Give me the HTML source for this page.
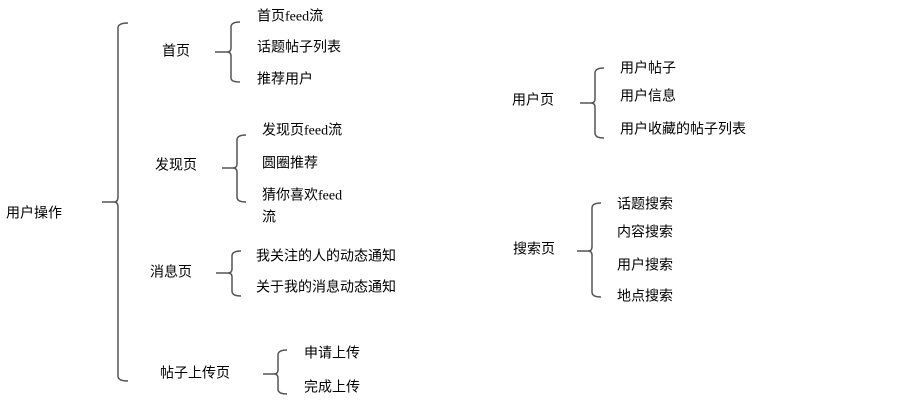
<!DOCTYPE html>
<html><head><meta charset="utf-8"><style>
html,body{margin:0;padding:0;background:#fff;width:903px;height:419px;overflow:hidden}
text{font-family:"Liberation Serif","Noto Sans CJK SC",serif;font-size:14px;fill:#000;dominant-baseline:central}
path{fill:none;stroke:#555;stroke-width:1.5}
</style></head><body>
<svg width="903" height="419" viewBox="0 0 903 419" xmlns="http://www.w3.org/2000/svg">
<!-- main -->
<path d="M128 23 Q118 23 118 28 L118 197 Q118 202 114 202 L102 202 M114 202 Q118 202 118 207 L118 376 Q118 381 128 381"/>
<text x="6" y="214">用户操作</text>
<!-- 首页 -->
<path d="M240 22 Q231 22 231 27 L231 48 Q231 52 227 52 L215 52 M227 52 Q231 52 231 56 L231 78 Q231 82 240 82"/>
<text x="162" y="52">首页</text>
<text x="257" y="17">首页feed流</text>
<text x="257" y="48">话题帖子列表</text>
<text x="257" y="80">推荐用户</text>
<!-- 发现页 -->
<path d="M246 135 Q237 135 237 140 L237 164 Q237 168 233 168 L222 168 M233 168 Q237 168 237 172 L237 197 Q237 202 246 202"/>
<text x="155" y="166">发现页</text>
<text x="262" y="131">发现页feed流</text>
<text x="262" y="164">圆圈推荐</text>
<text x="262" y="196">猜你喜欢feed</text>
<text x="262" y="218">流</text>
<!-- 消息页 -->
<path d="M241 251 Q232 251 232 256 L232 269 Q232 273 228 273 L216 273 M228 273 Q232 273 232 277 L232 291 Q232 296 241 296"/>
<text x="150" y="273">消息页</text>
<text x="256" y="257">我关注的人的动态通知</text>
<text x="256" y="288">关于我的消息动态通知</text>
<!-- 帖子上传页 -->
<path d="M287 350 Q278 350 278 355 L278 370 Q278 374 274 374 L263 374 M274 374 Q278 374 278 378 L278 389 Q278 394 287 394"/>
<text x="160" y="374">帖子上传页</text>
<text x="304" y="354">申请上传</text>
<text x="304" y="388">完成上传</text>
<!-- 用户页 -->
<path d="M604 68 Q595 68 595 73 L595 99 Q595 103 591 103 L580 103 M591 103 Q595 103 595 107 L595 133 Q595 138 604 138"/>
<text x="512" y="101">用户页</text>
<text x="620" y="69">用户帖子</text>
<text x="620" y="97">用户信息</text>
<text x="620" y="130">用户收藏的帖子列表</text>
<!-- 搜索页 -->
<path d="M601 203 Q592 203 592 208 L592 247 Q592 251 588 251 L577 251 M588 251 Q592 251 592 255 L592 292 Q592 297 601 297"/>
<text x="513" y="250">搜索页</text>
<text x="617" y="205">话题搜索</text>
<text x="617" y="233">内容搜索</text>
<text x="617" y="266">用户搜索</text>
<text x="617" y="297">地点搜索</text>
</svg>
</body></html>
